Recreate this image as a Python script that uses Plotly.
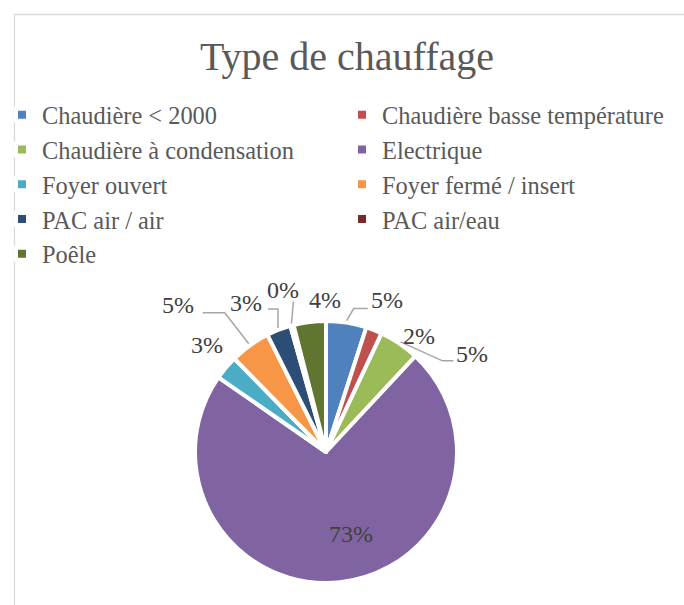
import math
import plotly.graph_objects as go

# Heating types and their shares (%)
categories = [
    "Chaudière < 2000",
    "Chaudière basse température",
    "Chaudière à condensation",
    "Electrique",
    "Foyer ouvert",
    "Foyer fermé / insert",
    "PAC air / air",
    "PAC air/eau",
    "Poêle",
]
shares = [5, 2, 5, 73, 3, 5, 3, 0.4, 4]
colors = ["#4F81BD", "#C0504D", "#9BBB59", "#8064A2", "#4BACC6",
          "#F79646", "#2C4D75", "#772C2A", "#5F7530"]

W, H = 684, 605
CX, CY, R = 326, 452, 129          # pie centre and visible radius, in pixels
EDGE = 4                           # white slice border width
FONT = "Liberation Serif"
TEXT = "#595959"
LABEL = "#404040"
LEADER = "#A6A6A6"

# Label placement relative to the slice anchor (dx, dy in px),
# plus optional leader line elbow/end points relative to the label centre.
label_style = [
    dict(dx=40, dy=-21, leader=[(-33, 9), (-19, 9)]),
    dict(dx=44, dy=8, leader=None),
    dict(dx=72, dy=12, leader=[(-30, 7), (-19, 7)]),
    dict(dx=16, dy=-1, leader=None, inside=True),
    dict(dx=-17, dy=-21, leader=None),
    dict(dx=-71, dy=-39, leader=[(47, 8), (25, 8)]),
    dict(dx=-32, dy=-25, leader=[(32, 6), (22, 6)]),
    dict(dx=-8, dy=-34, leader=[(10, 12)]),
    dict(dx=16, dy=-20, leader=None),
]


def px(x):
    return x / W


def py(y):
    return 1 - y / H


RD = R + EDGE / 2                  # domain radius so the visible edge sits at R
fig = go.Figure(go.Pie(
    labels=categories,
    values=shares,
    sort=False,
    direction="clockwise",
    rotation=0,
    textinfo="none",
    hoverinfo="label+percent",
    marker=dict(colors=colors, line=dict(color="white", width=EDGE)),
    domain=dict(x=[px(CX - RD), px(CX + RD)], y=[py(CY + RD), py(CY - RD)]),
))

total = sum(shares)
annotations = []
shapes = [
    # chart frame
    dict(type="rect", xref="paper", yref="paper",
         x0=px(14.5), x1=px(W + 20), y0=py(H + 20), y1=py(14.5),
         line=dict(color="#D9D9D9", width=1.3), fillcolor="rgba(0,0,0,0)",
         layer="below"),
]

cum = 0.0
for name, v, st in zip(categories, shares, label_style):
    mid = (cum + v / 2) / total * 2 * math.pi
    cum += v
    rr = 0.65 * R if st.get("inside") else R + 4
    ax = CX + rr * math.sin(mid)
    ay = CY - rr * math.cos(mid)
    lx, ly = ax + st["dx"], ay + st["dy"]
    annotations.append(dict(
        x=px(lx), y=py(ly), xref="paper", yref="paper",
        text=f"{round(v / total * 100)}%", showarrow=False,
        xanchor="center", yanchor="middle",
        font=dict(family=FONT, size=24, color=LABEL),
    ))
    if st["leader"]:
        pts = [(ax, ay)] + [(lx + ex, ly + ey) for ex, ey in st["leader"]]
        path = "M " + " L ".join(f"{px(x):.5f},{py(y):.5f}" for x, y in pts)
        shapes.append(dict(type="path", xref="paper", yref="paper", path=path,
                           line=dict(color=LEADER, width=1.5)))

fig.update_layout(
    width=W, height=H,
    margin=dict(l=0, r=0, t=0, b=0),
    paper_bgcolor="white",
    plot_bgcolor="white",
    title=dict(text="Type de chauffage", x=px(347), xanchor="center",
               y=py(56), yanchor="middle", yref="container",
               font=dict(family=FONT, size=40, color=TEXT)),
    legend=dict(orientation="h", x=px(2), y=py(92.5), xanchor="left",
                yanchor="top", entrywidth=295, entrywidthmode="pixels",
                font=dict(family=FONT, size=24.4, color=TEXT),
                bgcolor="rgba(0,0,0,0)", traceorder="normal"),
    annotations=annotations,
    shapes=shapes,
)

fig.write_html("out.html")
